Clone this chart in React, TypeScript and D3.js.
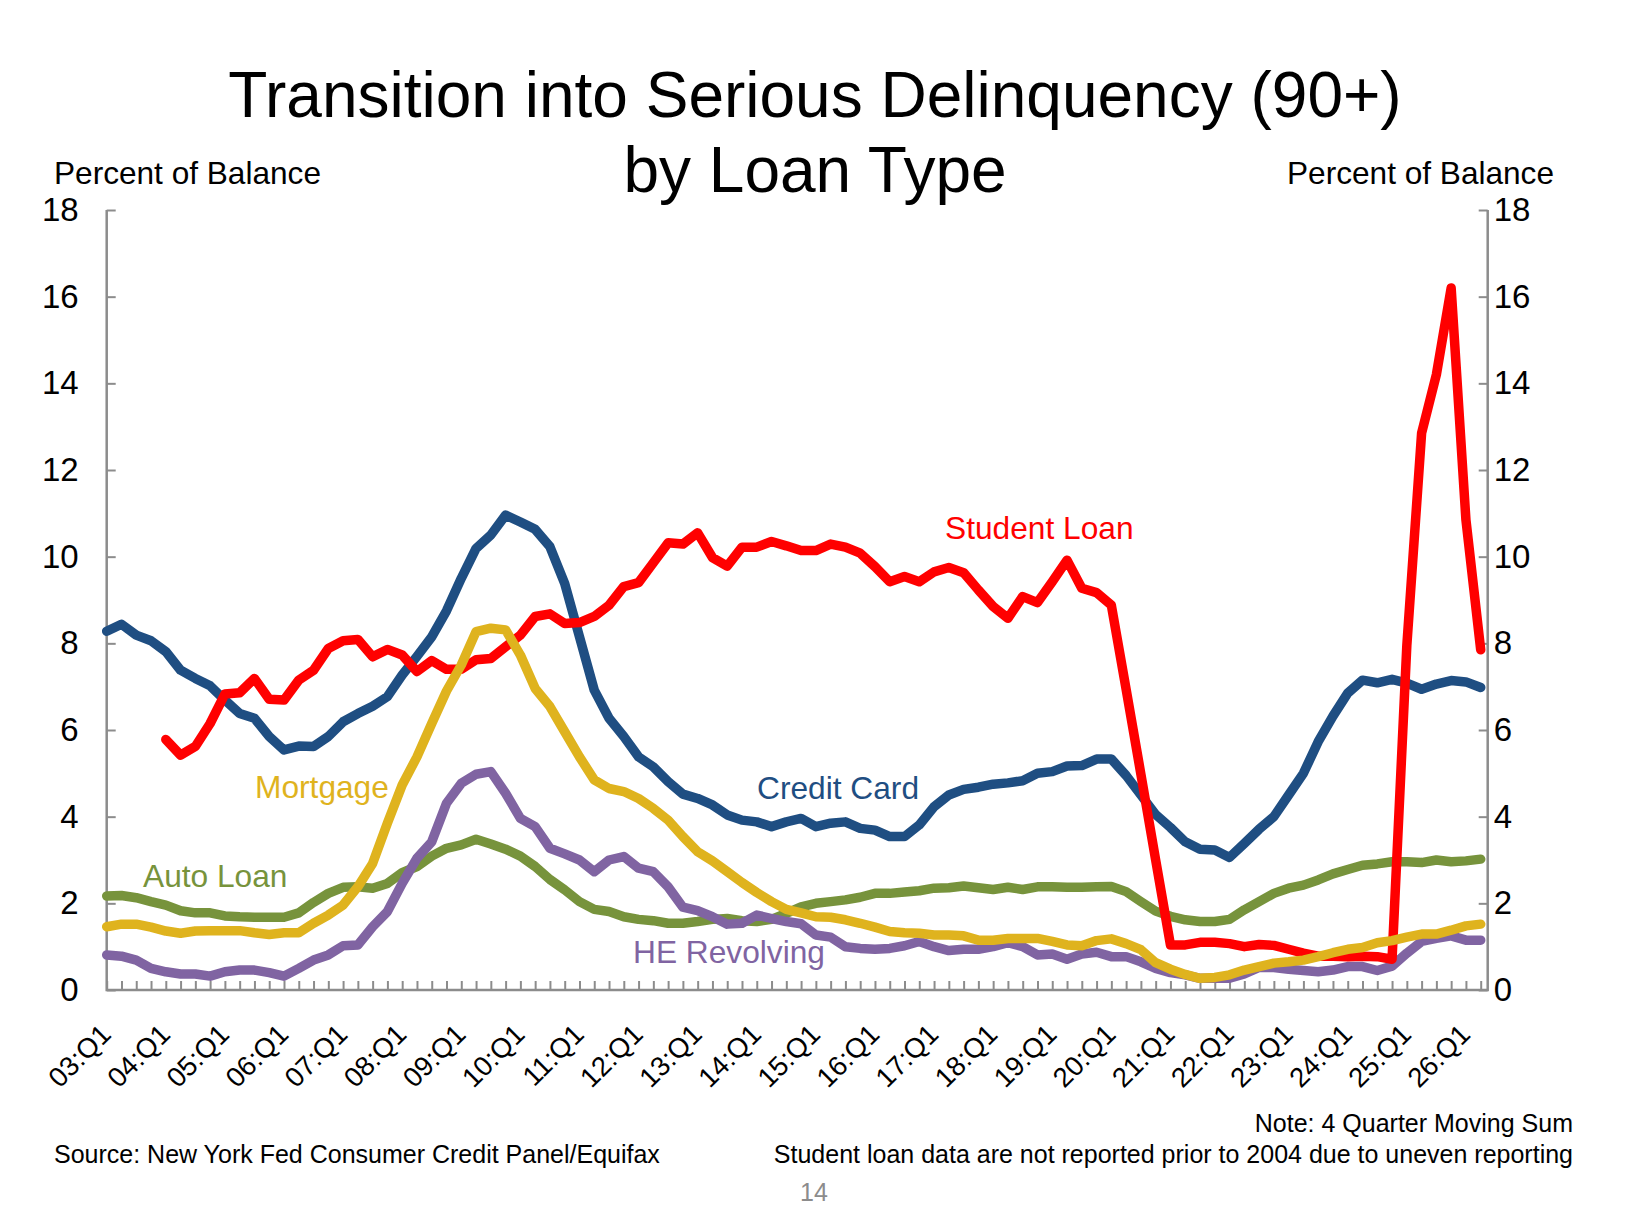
import { useEffect, useRef } from 'react';
import * as d3 from 'd3';

// quarters 03:Q1 .. 26:Q2
const years = d3.range(2003, 2027);
const quarters: string[] = years
  .flatMap(y => [1, 2, 3, 4].map(q => `${String(y % 100).padStart(2, '0')}:Q${q}`))
  .slice(0, 94);

const tickLabels = [
  '03:Q1', '04:Q1', '05:Q1', '06:Q1', '07:Q1', '08:Q1', '09:Q1', '10:Q1',
  '11:Q1', '12:Q1', '13:Q1', '14:Q1', '15:Q1', '16:Q1', '17:Q1', '18:Q1',
  '19:Q1', '20:Q1', '21:Q1', '22:Q1', '23:Q1', '24:Q1', '25:Q1', '26:Q1',
];

const yTicks = [0, 2, 4, 6, 8, 10, 12, 14, 16, 18];

const creditCard = [
  8.28, 8.44, 8.19, 8.06, 7.81, 7.38, 7.19, 7.02, 6.69, 6.38, 6.27, 5.85, 5.54, 5.63, 5.62, 5.85,
  6.19, 6.38, 6.55, 6.77, 7.27, 7.7, 8.15, 8.75, 9.5, 10.19, 10.5, 10.96, 10.8, 10.63, 10.23, 9.38,
  8.15, 6.92, 6.27, 5.85, 5.38, 5.15, 4.81, 4.52, 4.42, 4.27, 4.04, 3.92, 3.88, 3.77, 3.88, 3.96,
  3.77, 3.85, 3.88, 3.73, 3.69, 3.54, 3.54, 3.81, 4.23, 4.5, 4.63, 4.68, 4.75, 4.78, 4.83, 5.0,
  5.04, 5.17, 5.18, 5.33, 5.33, 4.95, 4.5, 4.05, 3.75, 3.42, 3.25, 3.23, 3.06, 3.38, 3.71, 4.0,
  4.5, 5.0, 5.73, 6.32, 6.85, 7.15, 7.09, 7.17, 7.08, 6.94, 7.06, 7.14, 7.11, 6.98,
];

const studentLoan: (number | null)[] = [
  null, null, null, null, 5.78, 5.42, 5.62, 6.15, 6.83, 6.86, 7.19, 6.71, 6.69, 7.15, 7.38, 7.88,
  8.06, 8.09, 7.69, 7.86, 7.73, 7.35, 7.6, 7.4, 7.4, 7.62, 7.65, 7.92, 8.19, 8.62, 8.68, 8.46,
  8.48, 8.62, 8.88, 9.31, 9.4, 9.86, 10.32, 10.29, 10.55, 9.98, 9.78, 10.22, 10.22, 10.35, 10.25, 10.14,
  10.14, 10.29, 10.22, 10.08, 9.77, 9.42, 9.54, 9.42, 9.65, 9.75, 9.63, 9.23, 8.85, 8.58, 9.08, 8.94,
  9.42, 9.92, 9.27, 9.17, 8.88, 6.94, 4.98, 3.0, 1.04, 1.04, 1.1, 1.1, 1.07, 1.0, 1.05, 1.03,
  0.94, 0.85, 0.78, 0.78, 0.77, 0.78, 0.77, 0.71, 7.95, 12.85, 14.2, 16.2, 10.85, 7.85,
];

const mortgage = [
  1.46, 1.52, 1.52, 1.45, 1.36, 1.31, 1.36, 1.37, 1.37, 1.37, 1.32, 1.28, 1.32, 1.32, 1.54, 1.73,
  1.96, 2.38, 2.92, 3.85, 4.73, 5.38, 6.15, 6.9, 7.5, 8.27, 8.35, 8.31, 7.73, 6.96, 6.54, 5.96,
  5.38, 4.85, 4.65, 4.58, 4.42, 4.19, 3.92, 3.54, 3.19, 2.98, 2.73, 2.48, 2.25, 2.04, 1.86, 1.78,
  1.69, 1.68, 1.62, 1.54, 1.45, 1.35, 1.32, 1.31, 1.27, 1.27, 1.25, 1.15, 1.15, 1.19, 1.19, 1.19,
  1.12, 1.04, 1.02, 1.14, 1.18, 1.07, 0.93, 0.63, 0.48, 0.36, 0.27, 0.29, 0.35, 0.46, 0.54, 0.62,
  0.65, 0.69, 0.77, 0.86, 0.94, 0.98, 1.09, 1.14, 1.22, 1.29, 1.29, 1.38, 1.48, 1.52,
];

const autoLoan = [
  2.17, 2.18, 2.13, 2.04, 1.96, 1.83, 1.78, 1.78, 1.71, 1.69, 1.68, 1.68, 1.68, 1.78, 2.02, 2.23,
  2.37, 2.38, 2.35, 2.46, 2.71, 2.85, 3.09, 3.27, 3.35, 3.48, 3.37, 3.25, 3.09, 2.85, 2.55, 2.31,
  2.04, 1.86, 1.81, 1.69, 1.63, 1.6, 1.54, 1.54, 1.58, 1.63, 1.65, 1.6, 1.58, 1.63, 1.77, 1.92,
  2.0, 2.04, 2.08, 2.14, 2.23, 2.23, 2.26, 2.29, 2.35, 2.36, 2.4, 2.36, 2.32, 2.37, 2.32, 2.38,
  2.38, 2.37, 2.37, 2.38, 2.39, 2.27, 2.04, 1.82, 1.7, 1.62, 1.58, 1.58, 1.63, 1.85, 2.04, 2.23,
  2.35, 2.42, 2.54, 2.68, 2.78, 2.88, 2.91, 2.96, 2.96, 2.94, 3.0, 2.96, 2.98, 3.02,
];

const heRevolving = [
  0.81, 0.78, 0.69, 0.5, 0.42, 0.37, 0.37, 0.32, 0.42, 0.46, 0.46, 0.4, 0.32, 0.5, 0.69, 0.81,
  1.02, 1.04, 1.46, 1.81, 2.46, 3.04, 3.42, 4.31, 4.77, 4.98, 5.04, 4.54, 3.96, 3.77, 3.27, 3.14,
  3.0, 2.73, 3.0, 3.08, 2.81, 2.73, 2.38, 1.91, 1.83, 1.69, 1.52, 1.54, 1.73, 1.65, 1.58, 1.53,
  1.27, 1.22, 1.0, 0.96, 0.94, 0.96, 1.02, 1.12, 1.0, 0.91, 0.94, 0.94, 1.0, 1.09, 1.0, 0.81,
  0.83, 0.71, 0.83, 0.87, 0.77, 0.77, 0.65, 0.5, 0.4, 0.35, 0.27, 0.27, 0.27, 0.37, 0.52, 0.52,
  0.48, 0.45, 0.42, 0.46, 0.54, 0.54, 0.45, 0.55, 0.85, 1.12, 1.19, 1.25, 1.15, 1.15,
];

const FONT = '"Liberation Sans", Arial, Helvetica, sans-serif';

const series = [
  { name: 'Auto Loan', values: autoLoan as (number | null)[], color: '#77933C', lx: 143, ly: 887 },
  { name: 'HE Revolving', values: heRevolving as (number | null)[], color: '#8064A2', lx: 633, ly: 963 },
  { name: 'Credit Card', values: creditCard as (number | null)[], color: '#1F4E82', lx: 757, ly: 799 },
  { name: 'Student Loan', values: studentLoan, color: '#FF0000', lx: 945, ly: 539 },
  { name: 'Mortgage', values: mortgage as (number | null)[], color: '#DFB31E', lx: 255, ly: 798 },
];

export default function App() {
  const svgRef = useRef<SVGSVGElement>(null);
  const width = 1632;
  const height = 1220;

  useEffect(() => {
    if (!svgRef.current) return;
    const svg = d3.select(svgRef.current);
    svg.selectAll('*').remove();

    const left = 106.7, right = 1487.7, top = 210, bottom = 990;

    const x = d3.scalePoint<string>().domain(quarters).range([left, 1480.7]);
    const y = d3.scaleLinear().domain([0, 18]).range([bottom, top]);

    svg.append('rect').attr('width', width).attr('height', height).attr('fill', '#fff');

    // title
    const title = svg.append('text')
      .attr('text-anchor', 'middle')
      .attr('font-family', FONT)
      .attr('font-size', 64)
      .attr('fill', '#000');
    title.append('tspan').attr('x', 815).attr('y', 117).text('Transition into Serious Delinquency (90+)');
    title.append('tspan').attr('x', 815).attr('y', 192).text('by Loan Type');

    // axis titles
    svg.append('text')
      .attr('x', 54).attr('y', 184)
      .attr('font-family', FONT).attr('font-size', 31.6)
      .text('Percent of Balance');
    svg.append('text')
      .attr('x', 1554).attr('y', 184)
      .attr('text-anchor', 'end')
      .attr('font-family', FONT).attr('font-size', 31.6)
      .text('Percent of Balance');

    const axisColor = '#8C8C8C';

    // y axes
    const leftAxis = svg.append('g')
      .attr('transform', `translate(${left},0)`)
      .call(d3.axisLeft(y).tickValues(yTicks).tickSize(-9).tickSizeOuter(0).tickPadding(28).tickFormat(d3.format('d')));
    const rightAxis = svg.append('g')
      .attr('transform', `translate(${right},0)`)
      .call(d3.axisRight(y).tickValues(yTicks).tickSize(-9).tickSizeOuter(0).tickPadding(6).tickFormat(d3.format('d')));

    [leftAxis, rightAxis].forEach(g => {
      g.select('.domain').remove();
      g.selectAll('.tick line').attr('stroke', axisColor).attr('stroke-width', 2);
      g.selectAll('.tick text')
        .attr('font-family', FONT)
        .attr('font-size', 33)
        .attr('fill', '#000');
    });

    // x axis ticks
    const xAxis = svg.append('g')
      .attr('transform', `translate(0,${bottom})`)
      .call(d3.axisBottom(x).tickSize(-9).tickSizeOuter(0).tickFormat(() => ''));
    xAxis.select('.domain').remove();
    xAxis.selectAll('.tick line').attr('stroke', axisColor).attr('stroke-width', 2);

    // frame lines
    svg.append('path')
      .attr('d', `M${left},${top}V${bottom}H${right}V${top}`)
      .attr('fill', 'none')
      .attr('stroke', axisColor)
      .attr('stroke-width', 2.5);

    // rotated category labels
    svg.append('g')
      .selectAll('text')
      .data(tickLabels)
      .enter().append('text')
      .attr('x', d => (x(d) ?? 0) + 6)
      .attr('y', 1036)
      .attr('transform', d => `rotate(-45, ${(x(d) ?? 0) + 6}, 1036)`)
      .attr('text-anchor', 'end')
      .attr('font-family', FONT)
      .attr('font-size', 27.5)
      .attr('fill', '#000')
      .text(d => d);

    // lines
    const line = d3.line<number | null>()
      .defined(d => d !== null)
      .x((d, i) => x(quarters[i]) ?? 0)
      .y(d => y(d as number))
      .curve(d3.curveLinear);

    const lines = svg.append('g');
    series.forEach(s => {
      lines.append('path')
        .datum(s.values)
        .attr('fill', 'none')
        .attr('stroke', s.color)
        .attr('stroke-width', 9.5)
        .attr('stroke-linejoin', 'round')
        .attr('stroke-linecap', 'round')
        .attr('d', line);
    });

    // series labels
    svg.append('g')
      .selectAll('text')
      .data(series)
      .enter().append('text')
      .attr('x', d => d.lx)
      .attr('y', d => d.ly)
      .attr('font-family', FONT)
      .attr('font-size', 31.7)
      .attr('fill', d => d.color)
      .text(d => d.name);

    // footer notes
    const foot = svg.append('g').attr('font-family', FONT).attr('font-size', 25).attr('fill', '#000');
    foot.append('text').attr('x', 54).attr('y', 1163)
      .text('Source: New York Fed Consumer Credit Panel/Equifax');
    foot.append('text').attr('x', 1573).attr('y', 1132).attr('text-anchor', 'end')
      .text('Note: 4 Quarter Moving Sum');
    foot.append('text').attr('x', 1573).attr('y', 1163).attr('text-anchor', 'end')
      .text('Student loan data are not reported prior to 2004 due to uneven reporting');
    svg.append('text')
      .attr('x', 814).attr('y', 1201)
      .attr('text-anchor', 'middle')
      .attr('font-family', FONT).attr('font-size', 25)
      .attr('fill', '#8C8C8C')
      .text('14');
  }, []);

  return (
    <svg
      ref={svgRef}
      width={width}
      height={height}
      style={{ position: 'absolute', left: 0, top: 0, display: 'block' }}
    />
  );
}
